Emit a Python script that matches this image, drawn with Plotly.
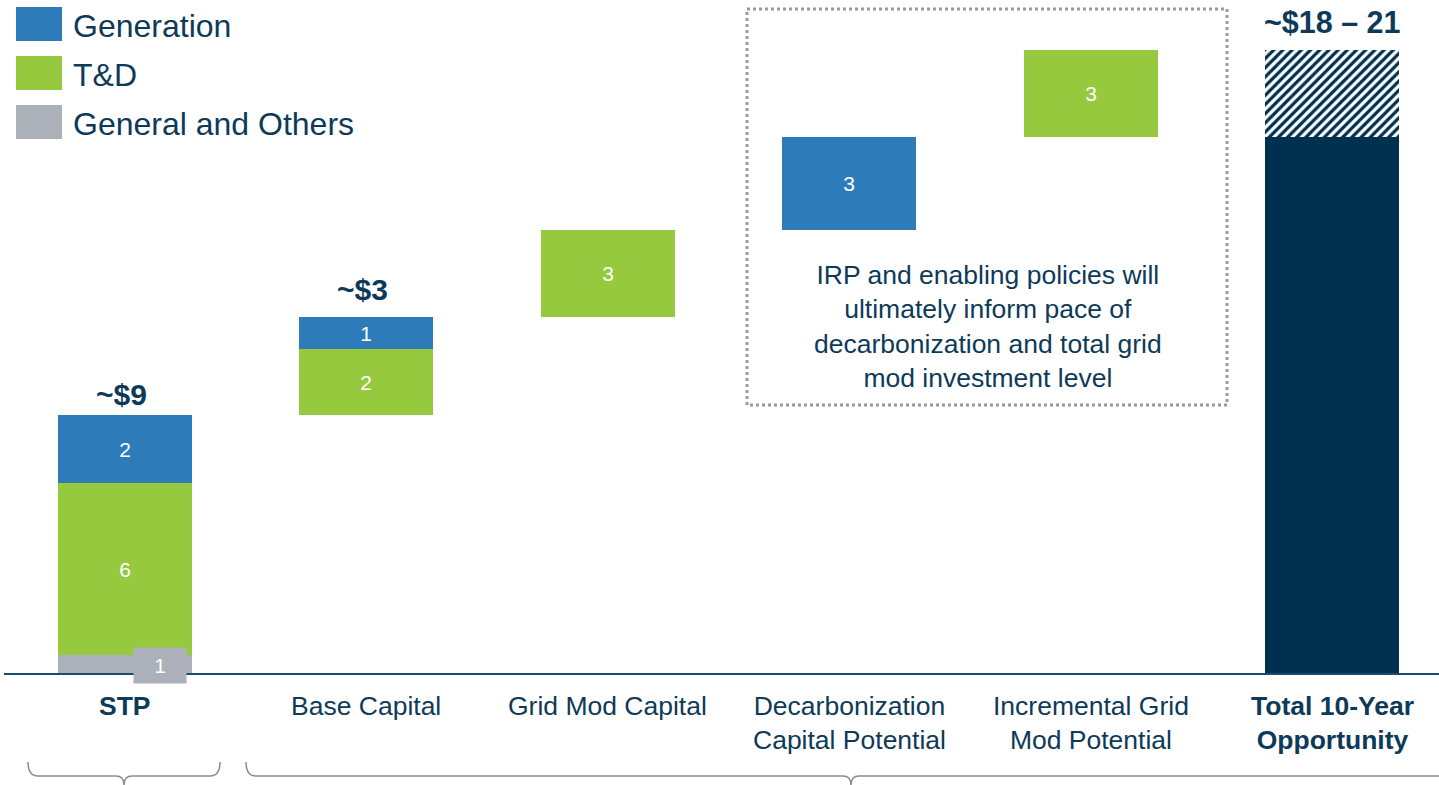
import plotly.graph_objects as go

# ---------------- data ----------------
categories = ["STP", "Base Capital", "Grid Mod Capital",
              "Decarbonization<br>Capital Potential",
              "Incremental Grid<br>Mod Potential",
              "Total 10-Year<br>Opportunity"]
bold_categories = ["STP", "Total 10-Year<br>Opportunity"]
general_vals = [0.64, 0, 0, 0, 0]
td_vals = [5.78, 2.22, 2.92, 0, 2.92]
gen_vals = [2.29, 1.08, 0, 3.13, 0]
general_labels = ["1", "", "", "", ""]
td_labels = ["6", "2", "3", "", "3"]
gen_labels = ["2", "1", "", "3", ""]
subtotal_labels = ["~$9", "~$3", "", "", ""]
total_label = "~$18 – 21"
legend_names = ["Generation", "T&D", "General and Others"]
box_text = ("IRP and enabling policies will<br>ultimately inform pace of<br>"
            "decarbonization and total grid<br>mod investment level")

# ---------------- style ----------------
C_GEN = "#2E7BBA"
C_TD = "#97C93F"
C_GENERAL = "#ACB0B8"
C_NAVY = "#00304F"
C_TEXT = "#0E3A5A"
FONT = "Arial, Liberation Sans, sans-serif"
SUBTOTAL_YSHIFT = [2, 9, 0, 0, 0]

W, H = 1439, 785
BASE_PX = 674.0       # pixel row of value 0
PX_PER_UNIT = 29.75
X0_PX = 125.0
X_STEP = 241.4


def yv(px):
    return (BASE_PX - px) / PX_PER_UNIT


def xv(px):
    return (px - X0_PX) / X_STEP


BAR_W = 134 / X_STEP

# cumulative waterfall bases
n = len(td_vals)
b_general, b_td, b_gen, tops = [], [], [], []
run = 0.0
for i in range(n):
    b_general.append(run); run += general_vals[i]
    b_td.append(run); run += td_vals[i]
    b_gen.append(run); run += gen_vals[i]
    tops.append(run)
total_solid = tops[3]
total_hatch = tops[4] - tops[3]

fig = go.Figure()


def add_bars(vals, bases, labels, color, name, show_text=True):
    xs = [i for i in range(n) if vals[i] > 0]
    fig.add_trace(go.Bar(
        x=xs, y=[vals[i] for i in xs], base=[bases[i] for i in xs],
        width=BAR_W, marker=dict(color=color, line=dict(width=0)),
        text=[labels[i] if show_text else "" for i in xs],
        textposition="inside", insidetextanchor="middle", textangle=0,
        textfont=dict(color="white", size=21, family=FONT),
        name=name, showlegend=False, hoverinfo="skip"))


add_bars(general_vals, b_general, general_labels, C_GENERAL, "General and Others", False)
add_bars(td_vals, b_td, td_labels, C_TD, "T&D")
add_bars(gen_vals, b_gen, gen_labels, C_GEN, "Generation")

# total bar
fig.add_trace(go.Bar(x=[5], y=[total_solid], base=[0], width=BAR_W,
                     marker=dict(color=C_NAVY, line=dict(width=0)),
                     showlegend=False, name="Total", hoverinfo="skip"))
fig.add_trace(go.Bar(x=[5], y=[total_hatch], base=[total_solid], width=BAR_W,
                     marker=dict(color="white", line=dict(width=0),
                                 pattern=dict(shape="/", fgcolor=C_NAVY, bgcolor="white",
                                              fgopacity=1, size=6.5, solidity=0.5)),
                     showlegend=False, name="Potential", hoverinfo="skip"))

shapes = []
annotations = []

# baseline
shapes.append(dict(type="line", xref="x", yref="y", x0=xv(4), x1=xv(1445), y0=0, y1=0,
                   line=dict(color="#1F4A70", width=2), layer="above"))

# gray label box for general
annotations.append(dict(x=xv(160), y=yv(665), xref="x", yref="y", text=general_labels[0],
                        showarrow=False, bgcolor=C_GENERAL, width=50, height=33,
                        borderpad=1,
                        font=dict(color="white", size=21, family=FONT)))

# subtotal labels
for i, lab in enumerate(subtotal_labels):
    if lab:
        annotations.append(dict(x=i, y=tops[i], xref="x", yref="y", text=f"<b>{lab}</b>",
                                showarrow=False, yanchor="bottom",
                                yshift=SUBTOTAL_YSHIFT[i], xshift=-4,
                                font=dict(color=C_TEXT, size=30, family=FONT)))
annotations.append(dict(x=5, y=yv(22), xref="x", yref="y", text=f"<b>{total_label}</b>",
                        showarrow=False, yanchor="middle",
                        font=dict(color=C_TEXT, size=30.5, family=FONT)))

# category labels
for i, c in enumerate(categories):
    t = f"<b>{c}</b>" if c in bold_categories else c
    annotations.append(dict(x=i, y=yv(689), xref="x", yref="y", text=t, showarrow=False,
                            yanchor="top", align="center",
                            font=dict(color=C_TEXT, size=26.5, family=FONT)))

# dotted box + text
shapes.append(dict(type="rect", xref="x", yref="y", x0=xv(747), x1=xv(1227),
                   y0=yv(9), y1=yv(405), line=dict(color="#9A9A9A", width=3, dash="dot")))
annotations.append(dict(x=xv(988), y=yv(326), xref="x", yref="y", text=box_text,
                        showarrow=False, align="center",
                        font=dict(color=C_TEXT, size=26.5, family=FONT)))

# legend (manual)
leg_colors = [C_GEN, C_TD, C_GENERAL]
for k, (nm, col) in enumerate(zip(legend_names, leg_colors)):
    top = 7 + 49 * k
    shapes.append(dict(type="rect", xref="x", yref="y", x0=xv(16), x1=xv(62),
                       y0=yv(top), y1=yv(top + 34), fillcolor=col, line=dict(width=0)))
    annotations.append(dict(x=xv(71), y=yv(top + 19), xref="x", yref="y", text=nm,
                            showarrow=False, xanchor="left",
                            font=dict(color=C_TEXT, size=32, family=FONT)))


def brace(x0, x1, xc, ytop=762, ymid=776, ybot=785):
    a, b, c = xv(x0), xv(x1), xv(xc)
    d = 10 / X_STEP
    e = 8 / X_STEP
    return (f"M {a},{yv(ytop)} Q {a},{yv(ymid)} {a + d},{yv(ymid)} "
            f"L {c - e},{yv(ymid)} Q {c},{yv(ymid)} {c},{yv(ybot)} "
            f"Q {c},{yv(ymid)} {c + e},{yv(ymid)} "
            f"L {b - d},{yv(ymid)} Q {b},{yv(ymid)} {b},{yv(ytop)}")


shapes.append(dict(type="path", xref="x", yref="y", path=brace(28, 220, 124),
                   line=dict(color="#8C8C8C", width=1.5)))
shapes.append(dict(type="path", xref="x", yref="y", path=brace(246, 1456, 851),
                   line=dict(color="#8C8C8C", width=1.5)))

fig.update_layout(
    width=W, height=H, margin=dict(l=0, r=0, t=0, b=0),
    paper_bgcolor="white", plot_bgcolor="white",
    barmode="overlay", bargap=0,
    xaxis=dict(range=[xv(0), xv(W)], visible=False, fixedrange=True),
    yaxis=dict(range=[yv(H), yv(0)], visible=False, fixedrange=True),
    shapes=shapes, annotations=annotations, showlegend=False,
    font=dict(family=FONT, color=C_TEXT),
)

fig.write_html("out.html", config={"displayModeBar": False},
               post_script="document.body.style.margin='0';document.body.style.overflow='hidden';")
